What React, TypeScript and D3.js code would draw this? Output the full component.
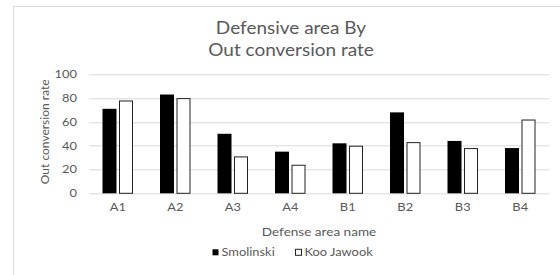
import React, { useRef, useEffect } from 'react';
import * as d3 from 'd3';

const areas = ['A1', 'A2', 'A3', 'A4', 'B1', 'B2', 'B3', 'B4'];
const smolinski = [71, 83, 50, 35, 42, 68, 44, 38];
const kooJawook = [78, 80, 31, 24, 40, 43, 38, 62];
const yTicks = [0, 20, 40, 60, 80, 100];
const seriesNames = ['Smolinski', 'Koo Jawook'];

const App = () => {
    const svgRef = useRef(null);

    useEffect(() => {
        const svgWidth = 560;
        const svgHeight = 275;
        const font = 'Lato, "Open Sans", sans-serif';
        const textColor = '#595959';
        const gridColor = '#d9d9d9';

        const svg = d3.select(svgRef.current)
            .attr('width', svgWidth)
            .attr('height', svgHeight);
        svg.selectAll('*').remove();

        // the source text looks stretched sideways, so each label gets a small x scale
        const addText = (parent, x, y, str, size, anchor, sx) =>
            parent.append('text')
                .attr('transform', `translate(${x},${y}) scale(${sx},1)`)
                .attr('dy', '0.35em')
                .attr('text-anchor', anchor)
                .attr('font-family', font)
                .attr('font-size', size)
                .attr('fill', textColor)
                .text(str);

        // chart frame
        svg.append('rect')
            .attr('x', 13.5).attr('y', 6.5)
            .attr('width', 580).attr('height', 300)
            .attr('fill', '#fff')
            .attr('stroke', gridColor);

        const margin = { top: 74.3, left: 89, right: 11, bottom: 81.7 };
        const width = svgWidth - margin.left - margin.right;
        const height = svgHeight - margin.top - margin.bottom;

        const g = svg.append('g').attr('transform', `translate(${margin.left},${margin.top})`);

        const xScale = d3.scaleBand().domain(areas).range([0, width]);
        const yScale = d3.scaleLinear().domain([0, 100]).range([height, 0]);

        // gridlines
        g.selectAll('line.grid')
            .data(yTicks)
            .enter()
            .append('line')
            .attr('x1', 0).attr('x2', width)
            .attr('y1', (d) => Math.round(yScale(d)) + 0.5)
            .attr('y2', (d) => Math.round(yScale(d)) + 0.5)
            .attr('stroke', gridColor)
            .attr('stroke-width', 1);

        yTicks.forEach((d) => addText(g, -12, yScale(d), d, 11, 'end', 1.17));
        areas.forEach((d) => addText(g, xScale(d) + xScale.bandwidth() / 2, height + 14, d, 11, 'middle', 1.17));

        const barW = 14;
        const gap = 2.5;

        // Smolinski bars
        g.selectAll('rect.s')
            .data(smolinski)
            .enter()
            .append('rect')
            .attr('x', (d, i) => xScale(areas[i]) + xScale.bandwidth() / 2 - gap / 2 - barW)
            .attr('y', (d) => yScale(d))
            .attr('width', barW)
            .attr('height', (d) => height - yScale(d))
            .attr('fill', '#000');

        // Koo Jawook bars
        g.selectAll('rect.k')
            .data(kooJawook)
            .enter()
            .append('rect')
            .attr('x', (d, i) => xScale(areas[i]) + xScale.bandwidth() / 2 + gap / 2 + 0.5)
            .attr('y', (d) => yScale(d) + 0.5)
            .attr('width', barW - 1)
            .attr('height', (d) => height - yScale(d) - 0.5)
            .attr('fill', '#fff')
            .attr('stroke', '#222')
            .attr('stroke-width', 1);

        // title
        addText(svg, 291, 28.5, 'Defensive area By', 16.5, 'middle', 1.15);
        addText(svg, 291, 50.5, 'Out conversion rate', 16.5, 'middle', 1.15);

        // axis titles
        addText(svg, margin.left + width / 2, 231.7, 'Defense area name', 12, 'middle', 1.13);

        svg.append('text')
            .attr('transform', `translate(44.5,${margin.top + height / 2 - 2}) rotate(-90)`)
            .attr('dy', '0.35em')
            .attr('text-anchor', 'middle')
            .attr('font-family', font)
            .attr('font-size', 12)
            .attr('fill', textColor)
            .text('Out conversion rate');

        // legend
        const legendG = svg.append('g').attr('transform', 'translate(0,252.3)');
        const legendX = [212.5, 295.5];
        seriesNames.forEach((name, i) => {
            legendG.append('rect')
                .attr('x', legendX[i])
                .attr('y', -3)
                .attr('width', 6)
                .attr('height', 6)
                .attr('fill', i === 0 ? '#000' : '#fff')
                .attr('stroke', i === 0 ? 'none' : '#222');
            addText(legendG, legendX[i] + 9, 0, name, 11, 'start', 1.17);
        });
    }, []);

    return (
        <div style={{ position: 'absolute', left: 0, top: 0 }}>
            <svg ref={svgRef} style={{ display: 'block' }} />
        </div>
    );
};

export default App;
